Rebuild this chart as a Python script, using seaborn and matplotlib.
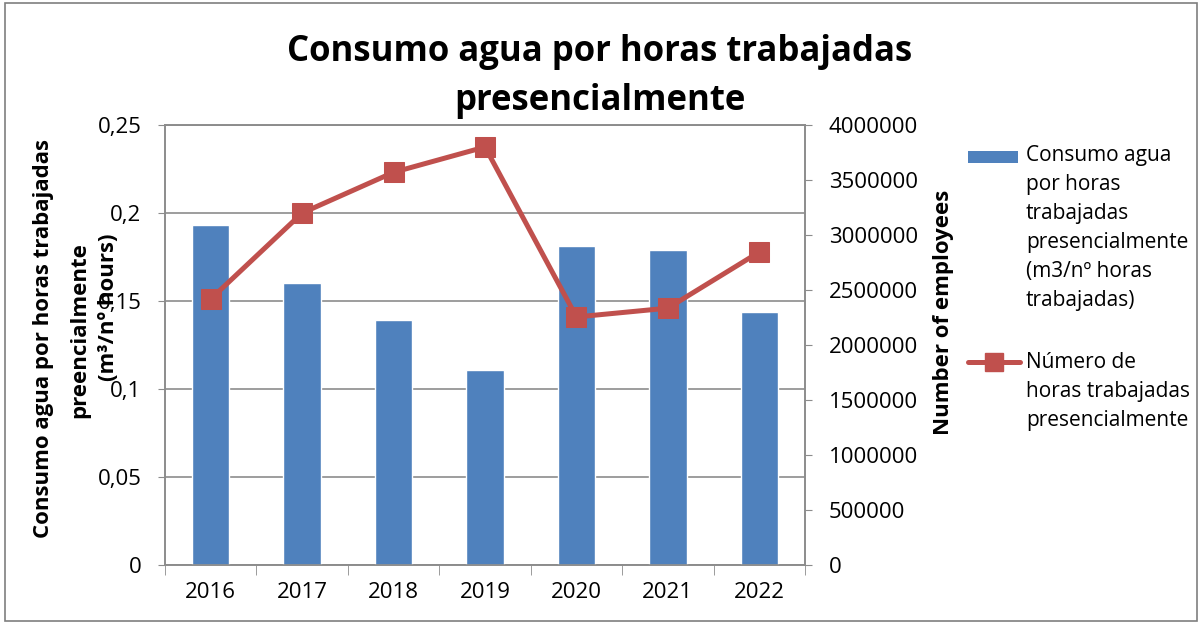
import matplotlib
matplotlib.use("Agg")
import matplotlib.pyplot as plt
import seaborn as sns
import numpy as np
import pandas as pd
from matplotlib.patches import Rectangle
from matplotlib.lines import Line2D

years = ["2016", "2017", "2018", "2019", "2020", "2021", "2022"]
consumo = [0.193, 0.160, 0.139, 0.111, 0.181, 0.179, 0.144]
horas = [2418000, 3200000, 3570000, 3800000, 2255000, 2335000, 2845000]
left_ticks = [0, 0.05, 0.1, 0.15, 0.2, 0.25]
left_labels = ["0", "0,05", "0,1", "0,15", "0,2", "0,25"]
right_ticks = [0, 500000, 1000000, 1500000, 2000000, 2500000, 3000000, 3500000, 4000000]
legend_labels = ["Consumo agua\npor horas\ntrabajadas\npresencialmente\n(m3/nº horas\ntrabajadas)",
                 "Número de\nhoras trabajadas\npresencialmente"]

sns.set_style("white")
plt.rcParams['font.family'] = ['Open Sans', 'DejaVu Sans']
plt.rcParams['text.color'] = 'black'
plt.rcParams['xtick.color'] = 'black'
plt.rcParams['ytick.color'] = 'black'

bar_color = "#4F81BD"
line_color = "#C0504D"
grid_color = "#8C8C8C"
W, H = 1204, 629

def fx(x):
    return x / W

def fy(y):
    return 1 - y / H

fig = plt.figure(figsize=(12.04, 6.29), dpi=100)
ax = fig.add_axes([fx(165), fy(565), 640 / W, 440 / H])

df = pd.DataFrame({"year": years, "consumo": consumo, "horas": horas})
sns.barplot(data=df, x="year", y="consumo", color=bar_color, width=0.41,
            saturation=1, ax=ax, zorder=3)
ax.set_ylim(0, 0.25)
ax.set_xlim(-0.5, 6.5)
ax.set_yticks(left_ticks)
ax.set_yticklabels(left_labels)
ax.yaxis.grid(True, color=grid_color, linewidth=1.2)
ax.set_axisbelow(True)
for s in ax.spines.values():
    s.set_color(grid_color)
    s.set_linewidth(1.2)
ax.tick_params(axis='y', length=5, color=grid_color, labelcolor='black', labelsize=16,
               pad=12, direction='out', left=True)
ax.tick_params(axis='x', length=0, labelsize=16, labelcolor='black', pad=12)
ax.set_xticks(np.arange(-0.5, 7, 1), minor=True)
ax.tick_params(axis='x', which='minor', length=7, color=grid_color, bottom=True)
ax.set_xlabel("")
ax.set_ylabel("")

ax2 = ax.twinx()
sns.lineplot(x=np.arange(len(years)), y=horas, ax=ax2, color=line_color,
             linewidth=3.6, marker='s', markersize=14, markeredgecolor=line_color,
             zorder=5)
ax2.set_ylim(0, 4000000)
ax2.set_yticks(right_ticks)
ax2.set_yticklabels([str(t) for t in right_ticks])
ax2.tick_params(axis='y', length=5, color=grid_color, labelcolor='black', labelsize=16,
                pad=12, direction='out', right=True)
for s in ax2.spines.values():
    s.set_color(grid_color)
    s.set_linewidth(1.2)
ax2.set_ylabel("")
ax2.set_xlim(-0.5, 6.5)

fig.text(fx(600), fy(52), "Consumo agua por horas trabajadas", ha='center', va='center',
         fontsize=25, fontweight='bold')
fig.text(fx(600), fy(101), "presencialmente", ha='center', va='center',
         fontsize=25, fontweight='bold')

fig.text(fx(44), fy(338), "Consumo agua por horas trabajadas", rotation=90,
         ha='center', va='center', fontsize=16, fontweight='bold')
fig.text(fx(80), fy(330), "preencialmente", rotation=90,
         ha='center', va='center', fontsize=16, fontweight='bold')
fig.text(fx(109), fy(307), "(m³/nº hours)", rotation=90,
         ha='center', va='center', fontsize=16, fontweight='bold')

fig.text(fx(943), fy(312), "Number of employees", rotation=90,
         ha='center', va='center', fontsize=16, fontweight='bold')

# legend
fig.patches.append(Rectangle((fx(968), fy(163)), 50 / W, 12 / H, transform=fig.transFigure,
                             facecolor=bar_color, edgecolor='none'))
fig.lines.append(Line2D([fx(968), fx(1020)], [fy(362), fy(362)], transform=fig.transFigure,
                        color=line_color, linewidth=3.6))
fig.lines.append(Line2D([fx(994)], [fy(362)], transform=fig.transFigure, color=line_color,
                        marker='s', markersize=13, linestyle='none'))
fig.text(fx(1026), fy(145), legend_labels[0], ha='left', va='top', fontsize=15,
         linespacing=1.5)
fig.text(fx(1026), fy(352), legend_labels[1], ha='left', va='top', fontsize=15,
         linespacing=1.5)

fig.patches.append(Rectangle((fx(5), fy(621)), 1192 / W, 618 / H,
                             transform=fig.transFigure, fill=False,
                             edgecolor="#7F7F7F", linewidth=1.2))

fig.savefig("out.png", dpi=100)
